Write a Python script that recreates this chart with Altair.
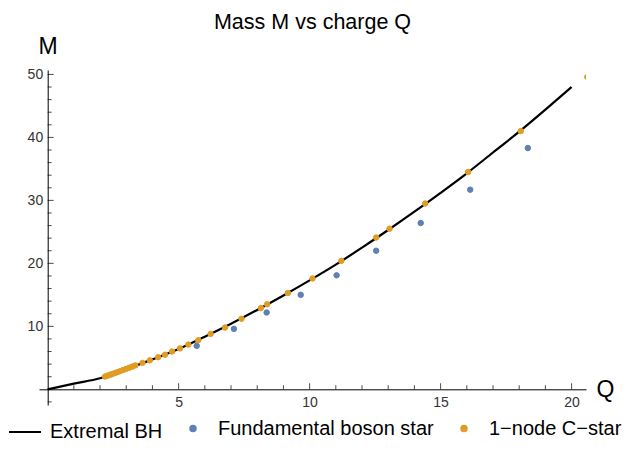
import altair as alt
import pandas as pd

title_text = "Mass M vs charge Q"
series_names = ["Extremal BH", "Fundamental boson star", "1\u2212node C\u2212star"]
series_colors = ["#000000", "#5E81B5", "#E19C24"]
series_shapes = ["stroke", "circle", "circle"]

# Extremal BH curve
curve_q = [0, 1, 2, 3, 4, 5, 6, 7, 8, 9, 10, 11, 12, 13, 14, 15, 16, 17, 18, 19, 20]
curve_m = [0, 0.9, 1.75, 3.2, 4.75, 6.4, 8.35, 10.4, 12.6, 14.9, 17.3, 19.8, 22.5,
           25.3, 28.2, 31.2, 34.3, 37.6, 40.9, 44.4, 48.0]

# Fundamental boson star
fbs_q = [5.69, 7.11, 8.36, 9.66, 11.03, 12.54, 14.24, 16.13, 18.33]
fbs_m = [6.9, 9.6, 12.2, 15.0, 18.1, 22.0, 26.4, 31.7, 38.3]

# 1-node C-star
cstar_q = [2.19, 2.28, 2.37, 2.46, 2.56, 2.66, 2.77, 2.88, 3.0, 3.12, 3.24, 3.35,
           3.62, 3.90, 4.22, 4.48, 4.75, 5.05, 5.37, 5.75, 6.22, 6.77, 7.40, 8.14,
           8.38, 9.17, 10.11, 11.21, 12.54, 13.05, 14.41, 16.05, 18.06, 20.6]
cstar_m = [2.03, 2.16, 2.29, 2.42, 2.57, 2.72, 2.89, 3.06, 3.25, 3.44, 3.62, 3.80,
           4.2, 4.6, 5.1, 5.5, 6.0, 6.5, 7.1, 7.8, 8.8, 9.8, 11.2, 12.9,
           13.5, 15.3, 17.6, 20.4, 24.1, 25.5, 29.5, 34.5, 41.0, 49.6]

x_major = [5, 10, 15, 20]
x_minor = [1, 2, 3, 4, 6, 7, 8, 9, 11, 12, 13, 14, 16, 17, 18, 19]
y_major = [10, 20, 30, 40, 50]
y_minor = [-2, 2, 4, 6, 8, 12, 14, 16, 18, 22, 24, 26, 28, 32, 34, 36, 38,
           42, 44, 46, 48]

x_domain = [-0.33, 20.55]
y_domain = [-2.49, 50.7]

FONT = "Liberation Sans"

curve_df = pd.DataFrame({"Q": curve_q, "M": curve_m})
pts_df = pd.concat([
    pd.DataFrame({"Q": fbs_q, "M": fbs_m, "series": series_names[1]}),
    pd.DataFrame({"Q": cstar_q, "M": cstar_m, "series": series_names[2]}),
], ignore_index=True)

xs = alt.Scale(domain=x_domain, nice=False, zero=False)
ys = alt.Scale(domain=y_domain, nice=False, zero=False)

x_axis = alt.Axis(values=x_major, grid=False, ticks=False, tickSize=0,
                  domainColor="black", domainWidth=1, labelFont=FONT,
                  labelFontSize=14, labelColor="#333333", labelPadding=6,
                  labelFlush=False, offset=-15.7, title="Q", titleFont=FONT,
                  titleFontSize=23, titleFontWeight="normal", titleColor="black",
                  titleAngle=0, titleX=557, titleY=0, titleAlign="left",
                  titleBaseline="middle")
y_axis = alt.Axis(values=y_major, grid=False, ticks=False, tickSize=0,
                  domainColor="black", domainWidth=1, labelFont=FONT,
                  labelFontSize=14, labelColor="#333333", labelPadding=5,
                  labelFlush=False, offset=-8.7, title="M", titleFont=FONT,
                  titleFontSize=23, titleFontWeight="normal", titleColor="black",
                  titleAngle=0, titleX=0, titleY=-23.5, titleAlign="center",
                  titleBaseline="middle")

def X(field):
    return alt.X(field, type="quantitative", scale=xs, axis=x_axis)

def Y(field):
    return alt.Y(field, type="quantitative", scale=ys, axis=y_axis)

legend = alt.Legend(orient="none", legendX=-31, legendY=345, direction="horizontal",
                    columns=3, title=None, labelFont=FONT, labelFontSize=20,
                    labelColor="black", labelOffset=8, columnPadding=13,
                    labelLimit=400, symbolStrokeWidth=2, symbolOpacity=1, padding=0)

line = alt.Chart(curve_df).mark_line(color="black", strokeWidth=2.2,
                                      interpolate="monotone", clip=True).encode(
    x=X("Q"), y=Y("M"))

points = alt.Chart(pts_df).mark_point(filled=True, opacity=1, strokeWidth=1,
                                      clip=True).encode(
    x=X("Q"), y=Y("M"),
    color=alt.Color("series:N", scale=alt.Scale(domain=series_names, range=series_colors), legend=legend),
    stroke=alt.Stroke("series:N", scale=alt.Scale(domain=series_names, range=series_colors), legend=legend),
    shape=alt.Shape("series:N", scale=alt.Scale(domain=series_names, range=series_shapes), legend=legend),
    size=alt.Size("series:N", scale=alt.Scale(type="ordinal", domain=series_names, range=[1024, 30, 30]), legend=legend),
)

def xticks(vals, size):
    return alt.Chart(pd.DataFrame({"Q": vals})).mark_tick(
        orient="vertical", size=size, thickness=1, yOffset=-size / 2,
        color="black").encode(
        x=X("Q"), y=alt.YDatum(0, type="quantitative", scale=ys, axis=y_axis))

def yticks(vals, size):
    return alt.Chart(pd.DataFrame({"M": vals})).mark_tick(
        orient="horizontal", size=size, thickness=1, xOffset=size / 2,
        color="black").encode(
        y=Y("M"), x=alt.XDatum(0, type="quantitative", scale=xs, axis=x_axis))

chart = alt.layer(
    xticks(x_major, 6), xticks(x_minor, 4), yticks(y_major, 6), yticks(y_minor, 4),
    line, points,
).properties(
    width=547, height=335, autosize="none",
    padding={"left": 31, "top": 62, "right": 43, "bottom": 40},
    title=alt.Title(title_text, font=FONT, fontSize=21.5, fontWeight="normal",
                    color="black", anchor="middle", offset=2),
).configure(background="white").configure_view(stroke=None)

chart.save("out.html", embed_options={"renderer": "svg", "actions": False})
